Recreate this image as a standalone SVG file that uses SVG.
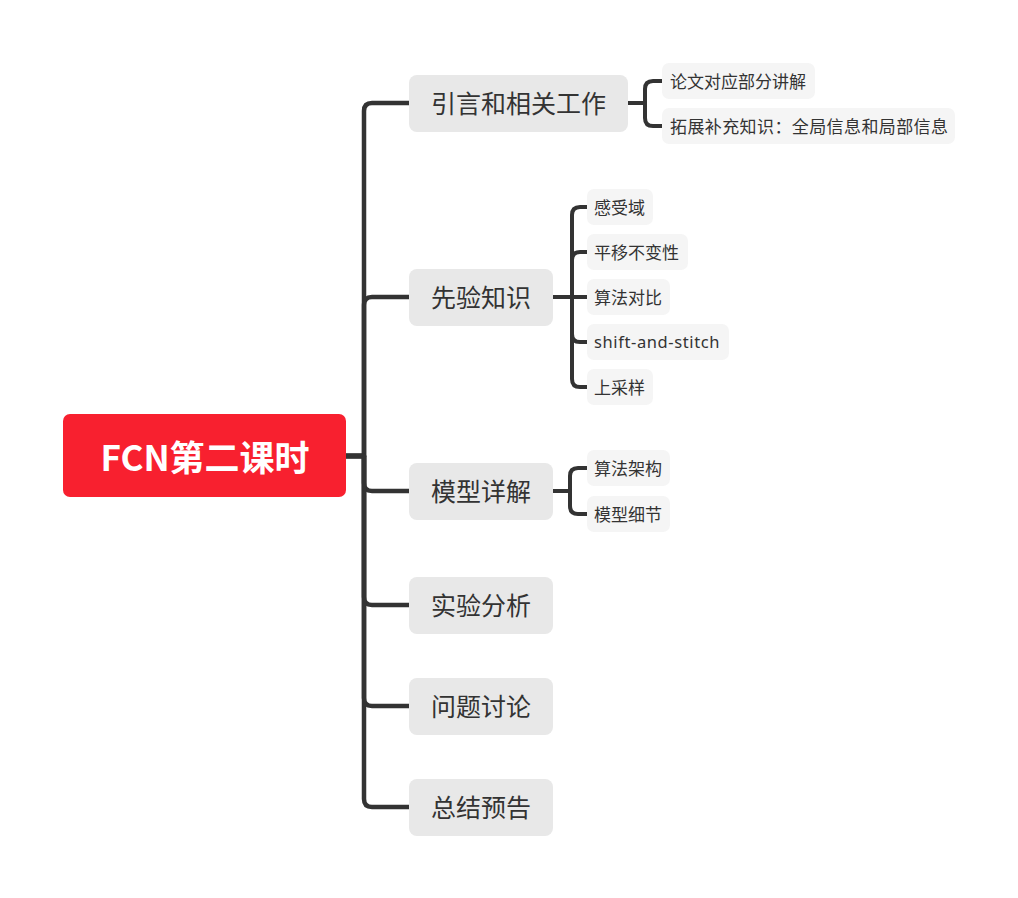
<svg xmlns="http://www.w3.org/2000/svg" width="1018" height="898" viewBox="0 0 1018 898">
<style>
.c{fill:none;stroke:#333333;stroke-width:4.5;stroke-linecap:round;stroke-linejoin:round}
.c2{fill:none;stroke:#333333;stroke-width:4;stroke-linecap:round;stroke-linejoin:round}
.l1 rect{fill:#E8E8E8}
.l1 text{font-family:"Noto Sans CJK SC","Noto Sans",sans-serif;font-size:25px;fill:#333333;text-anchor:middle;dominant-baseline:central}
.l2 rect{fill:#F5F5F5}
.l2 text{font-family:"Noto Sans CJK SC","Noto Sans",sans-serif;font-size:17px;fill:#333333;dominant-baseline:central}
.root text{font-family:"Noto Sans CJK SC","Noto Sans",sans-serif;font-size:35px;font-weight:bold;fill:#FFFFFF;text-anchor:middle;dominant-baseline:central}
</style>
<rect width="1018" height="898" fill="#FFFFFF"/>
<g id="connectors">
<path class="c" d="M346,456 H364 V111 Q364,103 372,103 H409"/>
<path class="c" d="M346,456 H364 V305 Q364,297 372,297 H409"/>
<path class="c" d="M346,456 H364 V483 Q364,491 372,491 H409"/>
<path class="c" d="M346,456 H364 V597 Q364,605 372,605 H409"/>
<path class="c" d="M346,456 H364 V698 Q364,706 372,706 H409"/>
<path class="c" d="M346,456 H364 V799 Q364,807 372,807 H409"/>
<path class="c2" d="M628,103 H645 V89 Q645,81 653,81 H662"/>
<path class="c2" d="M628,103 H645 V118 Q645,126 653,126 H662"/>
<path class="c2" d="M553,297 H572 V215 Q572,207 580,207 H587"/>
<path class="c2" d="M553,297 H572 V260 Q572,252 580,252 H587"/>
<path class="c2" d="M553,297 H587"/>
<path class="c2" d="M553,297 H572 V334 Q572,342 580,342 H587"/>
<path class="c2" d="M553,297 H572 V379 Q572,387 580,387 H587"/>
<path class="c2" d="M553,491 H570 V476 Q570,468 578,468 H587"/>
<path class="c2" d="M553,491 H570 V506 Q570,514 578,514 H587"/>
</g>
<g id="root" class="root">
<rect x="63" y="414" width="283" height="83" rx="7" fill="#F8202F"/>
<text x="205" y="455">FCN第二课时</text>
</g>
<g id="n1" class="l1"><rect x="409" y="75" width="219" height="57" rx="8"/><text x="518.5" y="102">引言和相关工作</text></g>
<g id="n2" class="l1"><rect x="409" y="269" width="144" height="57" rx="8"/><text x="481" y="296">先验知识</text></g>
<g id="n3" class="l1"><rect x="409" y="463" width="144" height="57" rx="8"/><text x="481" y="490">模型详解</text></g>
<g id="n4" class="l1"><rect x="409" y="577" width="144" height="57" rx="8"/><text x="481" y="604">实验分析</text></g>
<g id="n5" class="l1"><rect x="409" y="678" width="144" height="57" rx="8"/><text x="481" y="705">问题讨论</text></g>
<g id="n6" class="l1"><rect x="409" y="779" width="144" height="57" rx="8"/><text x="481" y="806">总结预告</text></g>
<g id="n1a" class="l2"><rect x="662" y="63" width="153" height="36" rx="7"/><text x="670" y="80">论文对应部分讲解</text></g>
<g id="n1b" class="l2"><rect x="662" y="108" width="293" height="36" rx="7"/><text x="670" y="125" style="letter-spacing:0.4px">拓展补充知识：全局信息和局部信息</text></g>
<g id="n2a" class="l2"><rect x="587" y="189" width="66" height="36" rx="7"/><text x="594" y="206">感受域</text></g>
<g id="n2b" class="l2"><rect x="587" y="234" width="101" height="36" rx="7"/><text x="594" y="251">平移不变性</text></g>
<g id="n2c" class="l2"><rect x="587" y="279" width="83" height="36" rx="7"/><text x="594" y="296">算法对比</text></g>
<g id="n2d" class="l2"><rect x="587" y="324" width="142" height="36" rx="7"/><text x="594" y="341.5" style="font-family:'Noto Sans',sans-serif;font-size:16.5px;letter-spacing:0.6px">shift-and-stitch</text></g>
<g id="n2e" class="l2"><rect x="587" y="369" width="66" height="36" rx="7"/><text x="594" y="386">上采样</text></g>
<g id="n3a" class="l2"><rect x="587" y="450" width="83" height="36" rx="7"/><text x="594" y="467">算法架构</text></g>
<g id="n3b" class="l2"><rect x="587" y="496" width="83" height="36" rx="7"/><text x="594" y="513">模型细节</text></g>
</svg>
